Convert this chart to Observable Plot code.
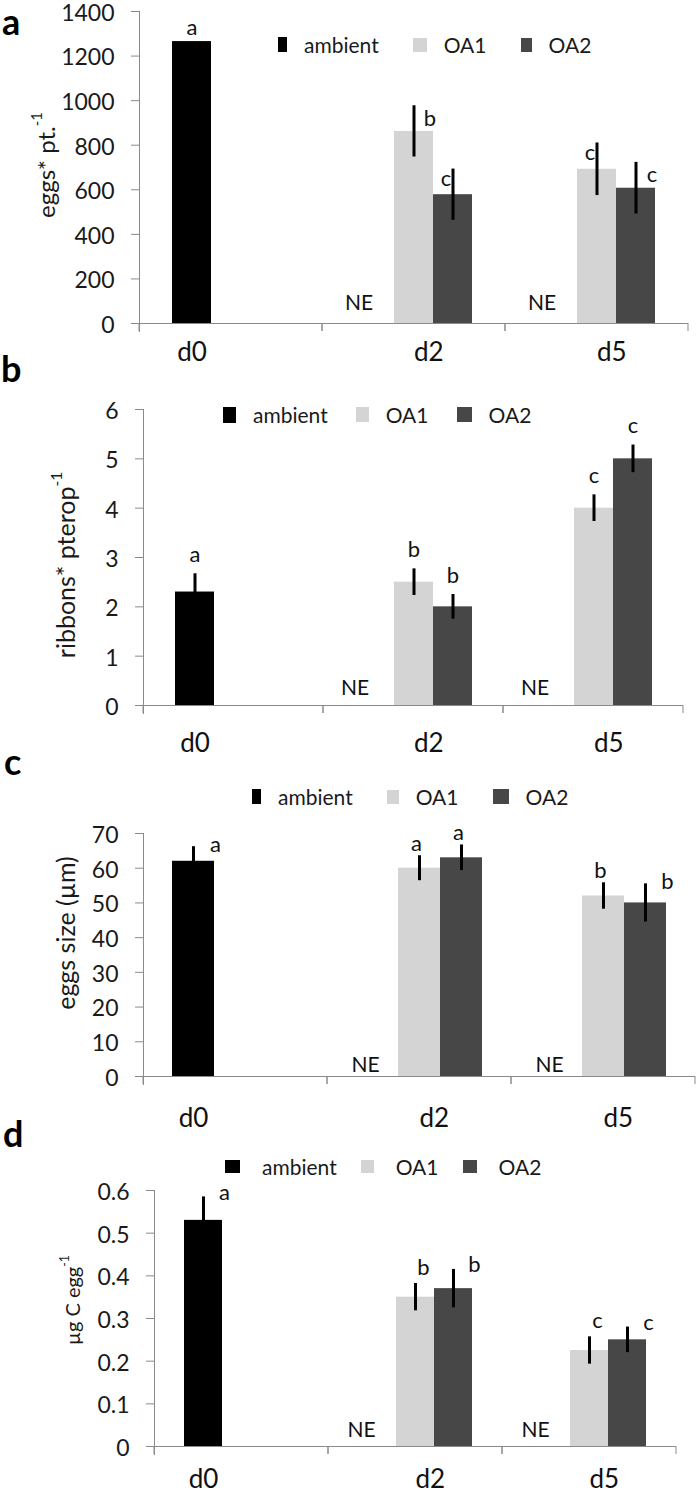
<!DOCTYPE html>
<html>
<head>
<meta charset="utf-8">
<script src="https://cdn.jsdelivr.net/npm/d3@7"></script>
<script src="https://cdn.jsdelivr.net/npm/@observablehq/plot@0.6"></script>
<style>
  body { margin: 0; background: #fff; }
  #root { position: relative; width: 700px; height: 1494px; overflow: hidden; font-family: Lato, "Open Sans", sans-serif; color: #1a1a1a; }
  .panel { position: absolute; left: 0; width: 700px; }
  .panel svg [aria-label="y-axis tick label"] { font-size: 23px; }
  .legend { position: absolute; display: flex; align-items: center; font-size: 21px; line-height: 1; white-space: nowrap; color: #1a1a1a; }
  .legend .sw { display: inline-block; flex: none; }
  #overlay { position: absolute; left: 0; top: 0; pointer-events: none; }
</style>
</head>
<body>
<div id="root"></div>
<script>
// ---------- data ----------
const days = ["d0", "d2", "d5"];
const series = ["ambient", "OA1", "OA2"];
const seriesColors = ["#000000", "#d4d4d4", "#474747"];

// a: eggs per pteropod
const eggsAmbient = [1265, "NE", "NE"];
const eggsAmbientErr = [0, null, null];
const eggsOA1 = [null, 862, 692];
const eggsOA1Err = [null, 115, 118];
const eggsOA2 = [null, 578, 607];
const eggsOA2Err = [null, 115, 116];
const eggsLetters = { ambient: ["a", null, null], OA1: [null, "b", "c"], OA2: [null, "c", "c"] };
const eggsTicks = [0, 200, 400, 600, 800, 1000, 1200, 1400];

// b: ribbons per pteropod
const ribbonsAmbient = [2.3, "NE", "NE"];
const ribbonsAmbientErr = [0.37, null, null];
const ribbonsOA1 = [null, 2.5, 4.0];
const ribbonsOA1Err = [null, 0.27, 0.27];
const ribbonsOA2 = [null, 2.0, 5.0];
const ribbonsOA2Err = [null, 0.25, 0.28];
const ribbonsLetters = { ambient: ["a", null, null], OA1: [null, "b", "c"], OA2: [null, "b", "c"] };
const ribbonsTicks = [0, 1, 2, 3, 4, 5, 6];

// c: egg size (µm)
const sizeAmbient = [62, "NE", "NE"];
const sizeAmbientErr = [4.2, null, null];
const sizeOA1 = [null, 60, 52];
const sizeOA1Err = [null, 3.6, 3.8];
const sizeOA2 = [null, 63, 50];
const sizeOA2Err = [null, 3.7, 5.5];
const sizeLetters = { ambient: ["a", null, null], OA1: [null, "a", "b"], OA2: [null, "a", "b"] };
const sizeTicks = [0, 10, 20, 30, 40, 50, 60, 70];

// d: µg C per egg
const carbonAmbient = [0.53, "NE", "NE"];
const carbonAmbientErr = [0.055, null, null];
const carbonOA1 = [null, 0.35, 0.225];
const carbonOA1Err = [null, 0.032, 0.032];
const carbonOA2 = [null, 0.37, 0.25];
const carbonOA2Err = [null, 0.045, 0.03];
const carbonLetters = { ambient: ["a", null, null], OA1: [null, "b", "c"], OA2: [null, "b", "c"] };
const carbonTicks = [0, 0.1, 0.2, 0.3, 0.4, 0.5, 0.6];

// ---------- panel layout ----------
const panels = [
  {
    id: "a", top: 0, height: 365, m: [11, 12, 42, 138], pad: 0.79,
    values: { ambient: eggsAmbient, OA1: eggsOA1, OA2: eggsOA2 },
    errs: { ambient: eggsAmbientErr, OA1: eggsOA1Err, OA2: eggsOA2Err },
    letters: eggsLetters, ticks: eggsTicks,
    place: { ambient: ["above", null, null], OA1: [null, "right", "left"], OA2: [null, "left", "right"] },
    offs: { above: [0, -14], right: [16, 13], left: [-7, 10] },
    neDy: 20, neDx: -16, dayDy: 29,
    yTitle: ["eggs* pt.", "-1"], yTitleAt: [45, 165], yTitleSize: 24,
    letterAt: [2, 35],
    legend: { left: 278, cy: 45, sw: [[9, 15], [14, 14], [11, 14]], swGap: 17, itemGap: 34 }
  },
  {
    id: "b", top: 365, height: 395, m: [44, 16, 55, 142], pad: 0.76,
    values: { ambient: ribbonsAmbient, OA1: ribbonsOA1, OA2: ribbonsOA2 },
    errs: { ambient: ribbonsAmbientErr, OA1: ribbonsOA1Err, OA2: ribbonsOA2Err },
    letters: ribbonsLetters, ticks: ribbonsTicks,
    place: { ambient: ["above", null, null], OA1: [null, "above", "above"], OA2: [null, "above", "above"] },
    offs: { above: [0, -19], right: [16, 0], left: [-7, 0] },
    neDy: 17, neDx: -20, dayDy: 38,
    yTitle: ["ribbons* pterop", "-1"], yTitleAt: [65, 565], yTitleSize: 25,
    letterAt: [1, 382],
    legend: { left: 223, cy: 415, sw: [[13, 16], [13, 15], [15, 15]], swGap: 17, itemGap: 28 }
  },
  {
    id: "c", top: 760, height: 370, m: [73, 5, 54, 143], pad: 0.69,
    values: { ambient: sizeAmbient, OA1: sizeOA1, OA2: sizeOA2 },
    errs: { ambient: sizeAmbientErr, OA1: sizeOA1Err, OA2: sizeOA2Err },
    letters: sizeLetters, ticks: sizeTicks,
    place: { ambient: ["right", null, null], OA1: [null, "above", "above"], OA2: [null, "above", "right"] },
    offs: { above: [-3, -12], right: [22, -2], left: [-7, 0] },
    neDy: 11, neDx: -12, dayDy: 42,
    yTitle: ["eggs size (µm)", ""], yTitleAt: [65, 933], yTitleSize: 25,
    letterAt: [4, 775],
    legend: { left: 252, cy: 797, sw: [[9, 15], [12, 14], [16, 15]], swGap: 17, itemGap: 34 }
  },
  {
    id: "d", top: 1130, height: 364, m: [60, 24, 48, 154], pad: 0.77,
    values: { ambient: carbonAmbient, OA1: carbonOA1, OA2: carbonOA2 },
    errs: { ambient: carbonAmbientErr, OA1: carbonOA1Err, OA2: carbonOA2Err },
    letters: carbonLetters, ticks: carbonTicks,
    place: { ambient: ["right", null, null], OA1: [null, "above", "above"], OA2: [null, "right", "right"] },
    offs: { above: [8, -16], right: [21, -4], left: [-7, 0] },
    neDy: 16, neDx: -16, dayDy: 33,
    yTitle: ["µg C egg", "-1"], yTitleAt: [72, 1300], yTitleSize: 20,
    letterAt: [3, 1147],
    legend: { left: 225, cy: 1167, sw: [[15, 13], [13, 13], [14, 13]], swGap: 22, itemGap: 24 }
  }
];

const axisGray = "#8a8a8a";
const root = document.getElementById("root");

function rowsFor(P) {
  const rows = [];
  days.forEach((day, i) => {
    series.forEach(s => {
      const v = P.values[s][i];
      if (v == null) return;
      rows.push({
        day, series: s, value: v,
        err: P.errs[s][i] || 0,
        letter: P.letters[s][i],
        place: P.place[s][i]
      });
    });
  });
  return rows;
}

function boundaryTicks(index, scales) {
  const [x0, x1] = scales.x.range();
  const y0 = scales.y(0);
  return d3.create("svg:path")
    .attr("d", `M${x0},${y0}v8M${x1},${y0}v8`)
    .attr("fill", "none")
    .attr("stroke", axisGray)
    .node();
}

for (const P of panels) {
  const rows = rowsFor(P);
  const bars = rows.filter(d => typeof d.value === "number");
  const ne = rows.filter(d => d.value === "NE");
  const dayRows = days.map((day, i) => {
    const present = series.filter(s => typeof P.values[s][i] === "number");
    return { day, slot: present[0], multi: present.length > 1 };
  });
  const letterMarks = ["above", "right", "left"].map(place =>
    Plot.text(bars.filter(d => d.letter && d.place === place), {
      fx: "day", x: "series", y: d => d.value + d.err, text: "letter",
      dx: P.offs[place][0], dy: P.offs[place][1],
      fontSize: 22, lineAnchor: "middle", fill: "#111"
    })
  );

  const chart = Plot.plot({
    width: 700,
    height: P.height,
    marginTop: P.m[0], marginRight: P.m[1], marginBottom: P.m[2], marginLeft: P.m[3],
    style: { fontFamily: "Lato, 'Open Sans', sans-serif", color: "#1a1a1a", background: "transparent", overflow: "visible" },
    fx: { domain: days, padding: 0, axis: null },
    x: { domain: series, paddingInner: 0, paddingOuter: P.pad, axis: null },
    y: { domain: [0, d3.max(P.ticks)] },
    color: { domain: series, range: seriesColors },
    marks: [
      Plot.axisY({ ticks: P.ticks, tickSize: 8, tickFormat: () => "", stroke: axisGray, label: null }),
      Plot.axisY({ ticks: P.ticks, tickSize: 0, tickPadding: 25, dy: 2, tickFormat: d => String(d), fontSize: 23, fill: "#1a1a1a", label: null }),
      Plot.barY(bars, { fx: "day", x: "series", y: "value", fill: "series" }),
      Plot.ruleX(bars.filter(d => d.err > 0), { fx: "day", x: "series", y1: d => d.value - d.err, y2: d => d.value + d.err, stroke: "#000", strokeWidth: 3 }),
      Plot.ruleY([0], { stroke: axisGray }),
      Plot.frame({ anchor: "left", facetAnchor: "left", insetBottom: -8, stroke: axisGray }),
      boundaryTicks,
      ...letterMarks,
      Plot.text(ne, { fx: "day", x: "series", text: "value", frameAnchor: "bottom", dx: P.neDx, dy: -P.neDy, fontSize: 21, lineAnchor: "middle", fill: "#111" }),
      Plot.text(dayRows.filter(d => !d.multi), { fx: "day", x: "slot", text: "day", frameAnchor: "bottom", dy: P.dayDy, fontSize: 26, lineAnchor: "middle", fill: "#111" }),
      Plot.text(dayRows.filter(d => d.multi), { fx: "day", x: "slot", text: "day", frameAnchor: "bottom", dy: P.dayDy, fontSize: 26, lineAnchor: "middle", textAnchor: "start", fill: "#111" })
    ]
  });

  const div = document.createElement("div");
  div.className = "panel";
  div.style.top = P.top + "px";
  div.style.height = P.height + "px";
  div.appendChild(chart);
  root.appendChild(div);

  // legend
  const L = P.legend;
  const leg = document.createElement("div");
  leg.className = "legend";
  leg.style.left = L.left + "px";
  leg.style.top = (L.cy - 11) + "px";
  series.forEach((s, i) => {
    const sw = document.createElement("span");
    sw.className = "sw";
    sw.style.width = L.sw[i][0] + "px";
    sw.style.height = L.sw[i][1] + "px";
    sw.style.background = seriesColors[i];
    sw.style.marginRight = L.swGap + "px";
    const tx = document.createElement("span");
    tx.textContent = s;
    if (i < series.length - 1) tx.style.marginRight = L.itemGap + "px";
    leg.appendChild(sw);
    leg.appendChild(tx);
  });
  root.appendChild(leg);
}

// overlay: panel letters and y-axis titles
const overlay = d3.select(root).append("svg")
  .attr("id", "overlay")
  .attr("width", 700).attr("height", 1494)
  .style("font-family", "Lato, 'Open Sans', sans-serif");

for (const P of panels) {
  overlay.append("text")
    .attr("x", P.letterAt[0]).attr("y", P.letterAt[1])
    .attr("font-size", 36).attr("font-weight", "bold").attr("fill", "#000")
    .text(P.id);
  const t = overlay.append("text")
    .attr("transform", `translate(${P.yTitleAt[0]},${P.yTitleAt[1]}) rotate(-90)`)
    .attr("text-anchor", "middle")
    .attr("dominant-baseline", "central")
    .attr("font-size", P.yTitleSize)
    .attr("fill", "#1a1a1a");
  t.append("tspan").text(P.yTitle[0]);
  if (P.yTitle[1]) {
    t.append("tspan").attr("baseline-shift", "super").attr("font-size", "0.62em").text(P.yTitle[1]);
  }
}
</script>
</body>
</html>
